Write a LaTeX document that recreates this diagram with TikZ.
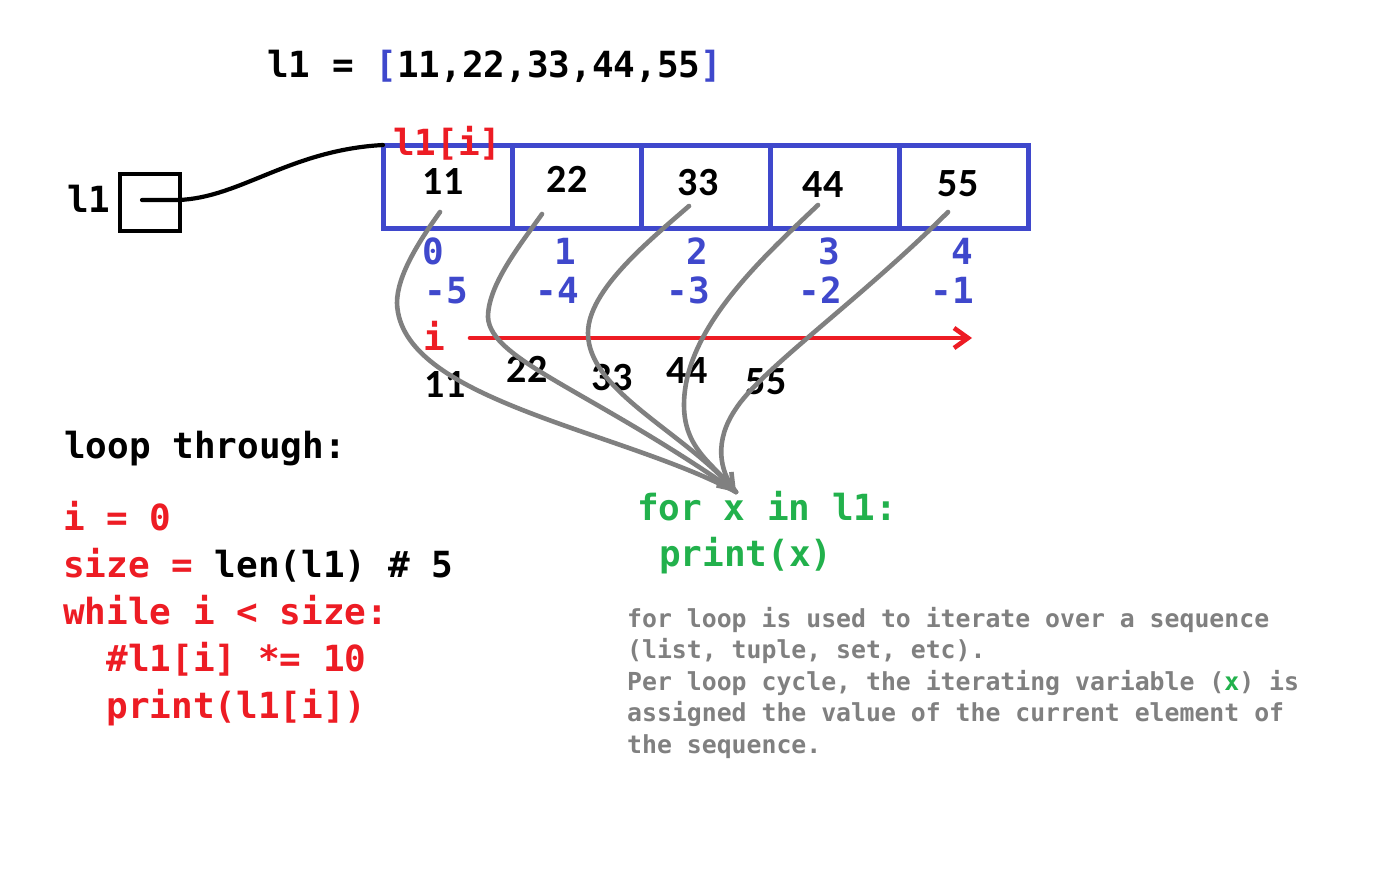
\documentclass[tikz,border=0pt]{standalone}
\usepackage{fontspec}
\setmonofont{DejaVu Sans Mono}
\newfontfamily\numfont{Carlito}
\usetikzlibrary{arrows.meta}
\definecolor{arrblue}{RGB}{63,72,204}
\definecolor{codered}{RGB}{237,28,36}
\definecolor{codegreen}{RGB}{34,177,76}
\definecolor{flowgray}{RGB}{128,128,128}
\frenchspacing
\begin{document}
\begin{tikzpicture}[x=1pt,y=-1pt,
  code/.style={font=\ttfamily\bfseries\fontsize{36}{36}\selectfont, inner sep=0pt, anchor=base west},
  idx/.style={font=\ttfamily\bfseries\fontsize{36}{36}\selectfont, inner sep=0pt, anchor=base, text=arrblue},
  val/.style={font=\numfont\bfseries\fontsize{40}{40}\selectfont, inner sep=0pt, anchor=base},
  note/.style={font=\ttfamily\bfseries\fontsize{24.8}{24.8}\selectfont, inner sep=0pt, anchor=base west, text=flowgray},
  cell/.style={draw=arrblue, line width=5pt, minimum height=83pt, minimum width=129pt, inner sep=0pt, outer sep=0pt},
  flow/.style={draw=flowgray, line width=4.6pt, line cap=round},
  barb/.style={-{Straight Barb[length=14pt,width=20pt]}}
]
% canvas
\fill[white] (0,0) rectangle (1380,868);
\useasboundingbox (0,0) rectangle (1380,868);

% list literal
\node[code] (literal) at (267,77) {l1 = \textcolor{arrblue}{[}11,22,33,44,55\textcolor{arrblue}{]}};

% variable box and its reference
\node[code] (varname) at (67,212) {l1};
\node[draw, line width=4.6pt, minimum width=60pt, minimum height=57pt, inner sep=0pt] (varbox) at (150,202.5) {};
\coordinate (ptr) at (142,200);

% array cells
\foreach \k in {0,...,4}
  \node[cell] (c\k) at (447.5+129*\k,186.5) {};
\draw[line width=4.2pt, line cap=round] (ptr) -- (178,200) .. controls (240,198) and (290,150) .. (c0.north west);

% stored values
\node[val] (v0) at (443,194) {11};
\node[val] (v1) at (567,192) {22};
\node[val] (v2) at (698,195) {33};
\node[val] (v3) at (823,197) {44};
\node[val] (v4) at (958,196) {55};

\node[code, text=codered] (access) at (393,155) {l1[i]};

% positive and negative indices
\node[idx] (p0) at (433,264) {0};
\node[idx] (p1) at (565,264) {1};
\node[idx] (p2) at (697,264) {2};
\node[idx] (p3) at (829,264) {3};
\node[idx] (p4) at (962,264) {4};
\node[idx] (n0) at (446,303) {-5};
\node[idx] (n1) at (557,303) {-4};
\node[idx] (n2) at (688,303) {-3};
\node[idx] (n3) at (820,303) {-2};
\node[idx] (n4) at (952,303) {-1};

% index direction
\node[idx, text=codered] (ivar) at (434,350) {i};
\coordinate (iS) at (470,338);
\coordinate (iE) at (972,338);
\draw[codered, line width=4.6pt, line cap=round, barb] (iS) -- (iE);

% values taken one by one
\node[val] (x0) at (445,397) {11};
\node[val] (x1) at (527,382) {22};
\node[val] (x2) at (612,390) {33};
\node[val] (x3) at (687,383) {44};
\node[val] (x4) at (766,394) {55};

% for loop
\node[code, text=codegreen] (forhead) at (637,520) {for x in l1:};
\node[code, text=codegreen] (forbody) at (659,566) {print(x)};
\coordinate (tip) at (736,492);

\coordinate (s0) at (440,212);
\coordinate (s1) at (542,214);
\coordinate (s2) at (689,206);
\coordinate (s3) at (818,205);
\coordinate (s4) at (948,212);
\draw[flow] (s0) .. controls (420,240) and (397,275) .. (397,303)
               .. controls (400,400) and (620,430) .. (tip);
\draw[flow] (s1) .. controls (520,245) and (488,285) .. (488,317)
               .. controls (490,360) and (590,390) .. (tip);
\draw[flow] (s3) .. controls (760,260) and (684,330) .. (684,405)
               .. controls (684,450) and (715,465) .. (tip);
\draw[flow] (s4) .. controls (860,300) and (760,370) .. (735,410)
               .. controls (715,440) and (718,470) .. (tip);
\draw[flow, barb] (s2) .. controls (650,240) and (588,290) .. (588,333)
               .. controls (588,390) and (680,430) .. (tip);

% while loop
\node[code] (looptitle) at (64,458) {loop through:};
\node[code, text=codered] (w1) at (63,530) {i = 0};
\node[code, text=codered] (w2) at (63,577) {size = \textcolor{black}{len(l1) \# 5}};
\node[code, text=codered] (w3) at (63,624) {while i < size:};
\node[code, text=codered] (w4) at (106.3,671) {\#l1[i] *= 10};
\node[code, text=codered] (w5) at (106.3,718) {print(l1[i])};

% explanation
\node[note] (d1) at (627,627) {for loop is used to iterate over a sequence};
\node[note] (d2) at (627,658.5) {(list, tuple, set, etc).};
\node[note] (d3) at (627,690) {Per loop cycle, the iterating variable (\textcolor{codegreen}{x}) is};
\node[note] (d4) at (627,721.5) {assigned the value of the current element of};
\node[note] (d5) at (627,753) {the sequence.};
\end{tikzpicture}
\end{document}
